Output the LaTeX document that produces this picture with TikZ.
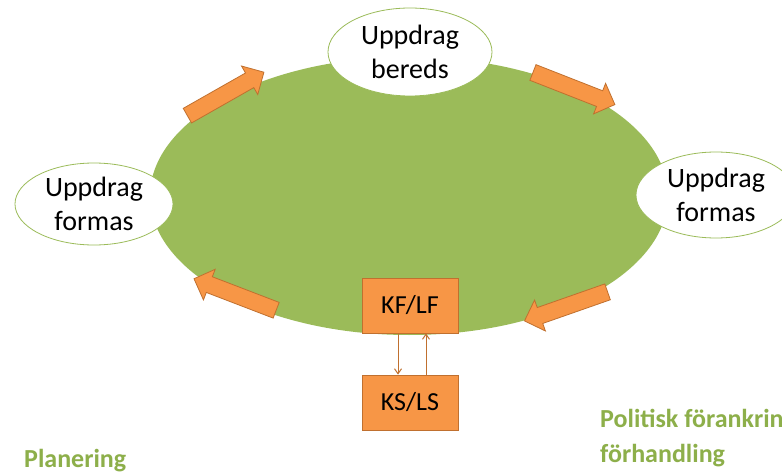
\documentclass[tikz,border=0pt]{standalone}
\usepackage{fontspec}
\setmainfont{Carlito}
\usetikzlibrary{shapes.geometric,shapes.arrows,arrows.meta}

\definecolor{olive}{HTML}{9BBB59}
\definecolor{orng}{HTML}{F79646}
\definecolor{orngline}{HTML}{C0702F}
\definecolor{labelgreen}{HTML}{8DAF4A}

\tikzset{
  phase/.style={ellipse, draw=olive, thick, fill=white, align=center, inner sep=0pt,
    font=\fontsize{28}{34}\selectfont},
  flowarrow/.style={single arrow, draw=orngline, fill=orng, thick, inner sep=8pt,
    single arrow head extend=8pt, minimum height=88pt},
  body/.style={rectangle, draw=orngline, fill=orng, thick, minimum width=96pt,
    minimum height=55pt, font=\fontsize{26}{30}\selectfont},
  link/.style={draw=orngline, line width=1pt, -{Straight Barb[length=5pt,width=7pt]}},
  side/.style={text=labelgreen, font=\bfseries\fontsize{26}{35}\selectfont, align=left,
    anchor=base west, inner sep=0pt}
}

\begin{document}
\begin{tikzpicture}[x=1pt,y=-1pt]
  \useasboundingbox[fill=white] (0,0) rectangle (782,476);

  % the cycle
  \node[ellipse, fill=olive, minimum width=518pt, minimum height=278pt] (cycle) at (409,196) {};

  % phases round it
  \node[phase, minimum width=164pt, minimum height=88pt] (bereds) at (410,52) {Uppdrag\\bereds};
  \node[phase, minimum width=158pt, minimum height=82pt] (formasL) at (94,204) {Uppdrag\\formas};
  \node[phase, minimum width=160pt, minimum height=86pt] (formasR) at (716,195) {Uppdrag\\formas};

  % arrows along the cycle
  \node[flowarrow, rotate=29.6] (a1) at (222,96) {};
  \node[flowarrow, rotate=-21.4] (a2) at (570,87) {};
  \node[flowarrow, rotate=159] (a3) at (239,296) {};
  \node[flowarrow, rotate=-160.7] (a4) at (570,305) {};

  % decision bodies
  \node[body] (kflf) at (410,305.5) {KF/LF};
  \node[body] (ksls) at (410,402.5) {KS/LS};
  \draw[link] ([xshift=-12pt]kflf.south) -- ([xshift=-12pt]ksls.north);
  \draw[link] ([xshift=16pt]ksls.north) -- ([xshift=16pt]kflf.south);

  % side texts
  \node[side] (plan) at (24,467) {Planering};
  \node[side] (polit) at (600,462) {Politisk förankring\\förhandling};
\end{tikzpicture}
\end{document}
